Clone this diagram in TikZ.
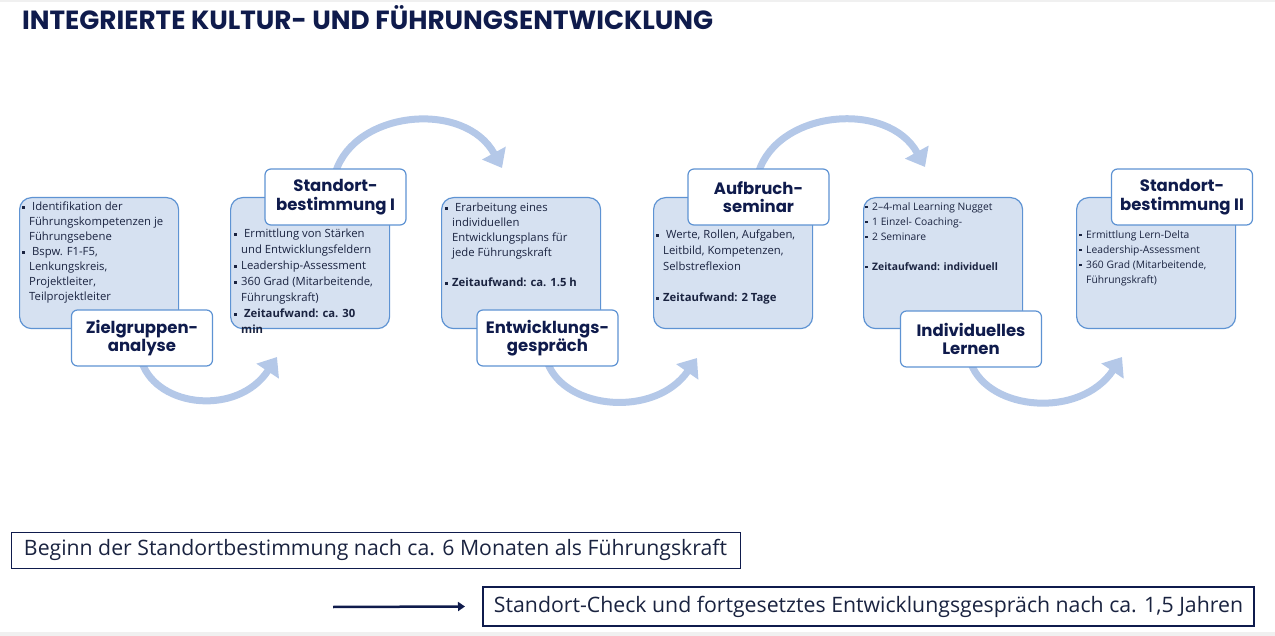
\documentclass[tikz,border=0pt]{standalone}
\usepackage{fontspec}
\setmainfont{Open Sans}
\newfontfamily\headfont{Poppins}
\usetikzlibrary{arrows.meta,backgrounds}
\definecolor{navy}{HTML}{0F1B4C}
\definecolor{boxfill}{HTML}{D6E1F1}
\definecolor{boxline}{HTML}{5E93D3}
\definecolor{arrowc}{HTML}{B4C8E8}
\definecolor{txt}{HTML}{1A2340}
\newcommand{\bl}{\makebox[7pt][l]{\raisebox{2pt}{\rule{2.4pt}{2.4pt}}}}
\newcommand{\ind}{\hspace*{7pt}}
\tikzset{
 infobox/.style={draw=boxline, fill=boxfill, line width=1.2pt, rounded corners=12pt, minimum width=159pt, minimum height=131pt, anchor=north west, inner sep=0pt},
 titlebox/.style={draw=boxline, fill=white, line width=1.2pt, rounded corners=6pt, minimum width=141pt, minimum height=56pt, align=center, font=\headfont\bfseries\fontsize{16.5}{18.5}\selectfont, text=navy, inner sep=0pt},
 flow/.style={draw=arrowc, line width=7pt, -{Triangle[width=26pt,length=17pt]}},
 body/.style={anchor=north west, align=left, inner sep=0pt, text=txt, font=\fontsize{11.3}{15}\selectfont},
 smallbody/.style={body, font=\fontsize{10.3}{15}\selectfont},
 notebox/.style={draw=navy, inner sep=0pt, text=txt, font=\fontsize{19}{22}\selectfont},
}
\begin{document}
\begin{tikzpicture}[x=1pt,y=-1pt]
\useasboundingbox (0,0) rectangle (1275,636);
\fill[black!6] (0,0) rectangle (1275,2);
\fill[black!6] (0,632) rectangle (1275,636);

% title
\node[anchor=west, inner sep=0pt, text=navy] (title) at (22,18) {\resizebox{691pt}{!}{\headfont\bfseries\fontsize{24}{28}\selectfont INTEGRIERTE KULTUR- UND FÜHRUNGSENTWICKLUNG}};

% arrow end points
\coordinate (e1) at (277,357);
\coordinate (e2) at (502,168);
\coordinate (e3) at (697,358);
\coordinate (e4) at (925,167);
\coordinate (e5) at (1122,357);

% info boxes
\node[infobox] (b1) at (19,197) {};
\node[infobox] (b2) at (230,197) {};
\node[infobox] (b3) at (441,197) {};
\node[infobox] (b4) at (653,197) {};
\node[infobox] (b5) at (863,197) {};
\node[infobox] (b6) at (1076,197) {};

% heading boxes
\node[titlebox] (t1) at (142,338) {Zielgruppen-\\analyse};
\node[titlebox] (t2) at (335.5,197) {Standort-\\bestimmung I};
\node[titlebox] (t3) at (547.5,338) {Entwicklungs-\\gespräch};
\node[titlebox] (t4) at (758.5,197) {Aufbruch-\\seminar};
\node[titlebox] (t5) at (971,339) {Individuelles\\Lernen};
\node[titlebox] (t6) at (1182,197) {Standort-\\bestimmung II};

% curved arrows behind the boxes
\begin{pgfonlayer}{background}
\draw[flow] ([yshift=4pt]t1.south) .. controls (158,408) and (238,416) .. (e1);
\draw[flow] ([yshift=-4pt]t2.north) .. controls (355,110) and (465,100) .. (e2);
\draw[flow] ([yshift=4pt]t3.south) .. controls (565,410) and (655,418) .. (e3);
\draw[flow] ([yshift=-4pt]t4.north) .. controls (778,110) and (888,100) .. (e4);
\draw[flow] ([yshift=4pt]t5.south) .. controls (989,411) and (1080,419) .. (e5);
\end{pgfonlayer}

% body texts
\node[body] (x1) at (22,202) {\bl\ Identifikation der\\\ind Führungskompetenzen je\\\ind Führungsebene\\\bl\ Bspw. F1-F5,\\\ind Lenkungskreis,\\\ind Projektleiter,\\\ind Teilprojektleiter};
\node[body, font=\fontsize{11.3}{16}\selectfont] (x2) at (234,229) {\bl\ Ermittlung von Stärken\\\ind und Entwicklungsfeldern\\\bl Leadership-Assessment\\\bl 360 Grad (Mitarbeitende,\\\ind Führungskraft)\\\bfseries\bl\ Zeitaufwand: ca. 30\\\ind\bfseries min};
\node[body] (x3) at (445,203) {\bl\ Erarbeitung eines\\\ind individuellen\\\ind Entwicklungsplans für\\\ind jede Führungskraft\\[15pt]\bl\bfseries Zeitaufwand: ca. 1.5 h};
\node[body, font=\fontsize{11.3}{15.7}\selectfont] (x4) at (656,230) {\bl\ Werte, Rollen, Aufgaben,\\\ind Leitbild, Kompetenzen,\\\ind Selbstreflexion\\[15.7pt]\bl\bfseries Zeitaufwand: 2 Tage};
\node[smallbody] (x5) at (865,202) {\bl 2--4-mal Learning Nugget\\\bl 1 Einzel- Coaching-\\\bl 2 Seminare\\[15pt]\bl\bfseries Zeitaufwand: individuell};
\node[smallbody] (x6) at (1079,230) {\bl Ermittlung Lern-Delta\\\bl Leadership-Assessment\\\bl 360 Grad (Mitarbeitende,\\\ind Führungskraft)};

% bottom notes
\node[notebox, line width=0.8pt, minimum width=729pt, minimum height=36pt] (n1) at (375.5,550) {\resizebox{703pt}{!}{Beginn der Standortbestimmung nach ca. 6 Monaten als Führungskraft}};
\node[notebox, line width=2pt, minimum width=771pt, minimum height=39pt] (n2) at (868.5,606.5) {\resizebox{749pt}{!}{Standort-Check und fortgesetztes Entwicklungsgespräch nach ca. 1,5 Jahren}};
\coordinate (a0) at (333,607);
\draw[navy, line width=2.5pt, -{Triangle[width=9pt,length=7pt]}] (a0) -- ([xshift=-17pt]n2.west);
\end{tikzpicture}
\end{document}
